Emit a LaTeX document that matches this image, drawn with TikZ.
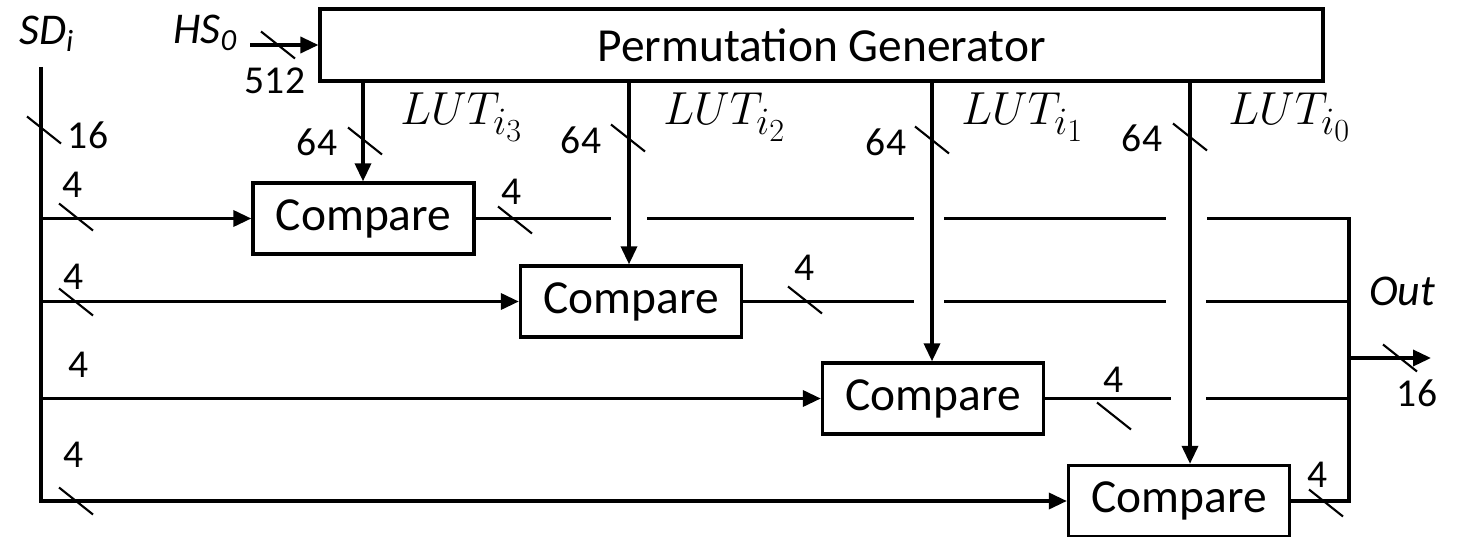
\documentclass[tikz,border=0pt]{standalone}
\usepackage{fontspec}
\setmainfont{Carlito}
\usepackage{tikz}
\usetikzlibrary{arrows.meta, calc, positioning}

\newcommand{\busmark}[1]{\draw[bustick] (#1) +(-17,-13.5) -- +(17,13.5);}

\begin{document}
\begin{tikzpicture}[x=0.02cm, y=-0.02cm,
    blk/.style={draw, line width=1.9pt, inner sep=0pt, font=\fontsize{27}{30}\selectfont},
    cmp/.style={blk, minimum width=4.42cm, minimum height=1.42cm},
    wire/.style={line width=2pt},
    arr/.style={wire, -{Triangle[length=0.36cm, width=0.32cm]}},
    bustick/.style={line width=1.2pt},
    num/.style={inner sep=0pt, font=\fontsize{22.5}{26}\selectfont},
    lbl/.style={inner sep=0pt, font=\fontsize{25}{30}\selectfont\itshape},
    lut/.style={inner sep=0pt, anchor=base west, font=\fontsize{24.88}{30}\selectfont}]
    \useasboundingbox (0,0) rectangle (1463,537);

    % 置换生成器
    \node[blk, minimum width=20.06cm, minimum height=1.44cm] (pg) at (821.5,45) {Permutation Generator};

    % 比较器
    \node[cmp] (c3) at (363.5,218.5) {Compare};
    \node[cmp] (c2) at (631,301.5) {Compare};
    \node[cmp] (c1) at (933,398.5) {Compare};
    \node[cmp] (c0) at (1179,501) {Compare};

    % 辅助点
    \coordinate (sd) at (41,67);
    \coordinate (hs) at (250,45);
    \coordinate (l3) at (363,0);
    \coordinate (l2) at (629,0);
    \coordinate (l1) at (932,0);
    \coordinate (l0) at (1190,0);
    \coordinate (bus) at (1349,0);
    \coordinate (out) at (1431,358);

    % 输入
    \node[lbl, anchor=base west] (sdlbl) at (19,45) {SD\textsubscript{i}};
    \node[lbl, anchor=base west] (hslbl) at (173,44) {HS\textsubscript{0}};
    \draw[arr] (hs) -- (hs -| pg.west);
    \node[num] (n512) at (275,81) {512};
    \draw[arr] (sd) -- (sd |- c0.west) -- (c0.west);
    \draw[arr] (sd |- c3.west) -- (c3.west);
    \draw[arr] (sd |- c2.west) -- (c2.west);
    \draw[arr] (sd |- c1.west) -- (c1.west);
    \node[num] (n16a) at (88,135) {16};
    \node[num] (a3) at (73,185) {4};
    \node[num] (a2) at (74,277) {4};
    \node[num] (a1) at (79,365) {4};
    \node[num] (a0) at (74,455) {4};

    % 查找表
    \draw[arr] (l3 |- pg.south) -- (l3 |- c3.north);
    \draw[arr] (l2 |- pg.south) -- (l2 |- c2.north);
    \draw[arr] (l1 |- pg.south) -- (l1 |- c1.north);
    \draw[arr] (l0 |- pg.south) -- (l0 |- c0.north);
    \node[lut] (t3) at ($(l3)+(37,125)$) {\scalebox{1.06}{$LUT_{i_3}$}};
    \node[lut] (t2) at ($(l2)+(34,125)$) {\scalebox{1.06}{$LUT_{i_2}$}};
    \node[lut] (t1) at ($(l1)+(29,125)$) {\scalebox{1.06}{$LUT_{i_1}$}};
    \node[lut] (t0) at ($(l0)+(38,125)$) {\scalebox{1.06}{$LUT_{i_0}$}};
    \node[num] (w3) at (317,142) {64};
    \node[num] (w2) at (581,140) {64};
    \node[num] (w1) at (886,142) {64};
    \node[num] (w0) at (1142,138) {64};

    % 输出
    \draw[wire] (c3.east) -- ($(c3.east -| l2)+(-18,0)$)
        ($(c3.east -| l2)+(18,0)$) -- ($(c3.east -| l1)+(-18,0)$)
        ($(c3.east -| l1)+(12,0)$) -- ($(c3.east -| l0)+(-24,0)$)
        ($(c3.east -| l0)+(17,0)$) -- (c3.east -| bus) -- (c0.east -| bus) -- (c0.east);
    \draw[wire] (c2.east) -- ($(c2.east -| l1)+(-18,0)$)
        ($(c2.east -| l1)+(12,0)$) -- ($(c2.east -| l0)+(-24,0)$)
        ($(c2.east -| l0)+(16,0)$) -- (c2.east -| bus);
    \draw[wire] (c1.east) -- ($(c1.east -| l0)+(-19,0)$)
        ($(c1.east -| l0)+(16,0)$) -- (c1.east -| bus);
    \draw[arr] (out -| bus) -- (out);
    \node[num] (b3) at (512,192) {4};
    \node[num] (b2) at (805,268) {4};
    \node[num] (b1) at (1114,380) {4};
    \node[num] (b0) at (1317,475) {4};
    \node[lbl] (outlbl) at (1402,291) {Out};
    \node[num] (n16b) at (1417,393) {16};

    % 位宽标记
    \busmark{278,45}
    \busmark{44,130}
    \busmark{76,217}
    \busmark{76,302}
    \busmark{76,501}
    \busmark{365,141}
    \busmark{628,138}
    \busmark{932,140}
    \busmark{1190,137}
    \busmark{515,220}
    \busmark{805,300}
    \busmark{1114,416}
    \busmark{1326,503}
    \busmark{1400,358}
\end{tikzpicture}
\end{document}
